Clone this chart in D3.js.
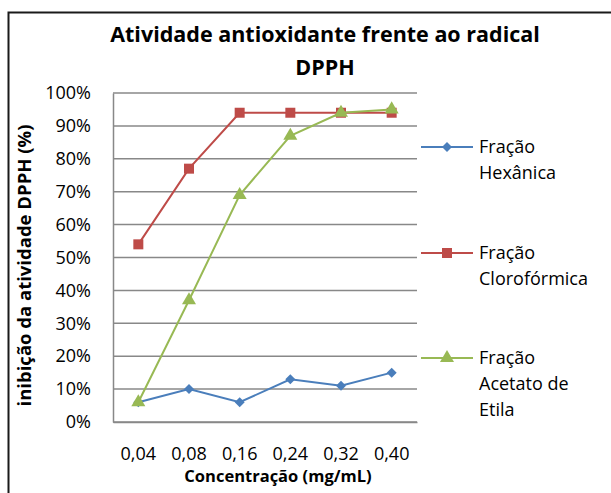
<!DOCTYPE html>
<html>
<head>
<meta charset="utf-8">
<script src="https://cdn.jsdelivr.net/npm/d3@7"></script>
<style>
  body { margin: 0; background: #fff; }
  text { font-family: "Open Sans", "Liberation Sans", sans-serif; fill: #000; }
</style>
</head>
<body>
<div id="chart"></div>
<script>
// chart values
var concentrations = ['0,04', '0,08', '0,16', '0,24', '0,32', '0,40'];
var hexanica = [6, 10, 6, 13, 11, 15];
var cloroformica = [54, 77, 94, 94, 94, 94];
var acetato = [6, 37, 69, 87, 94, 95];
var yTicks = [0, 10, 20, 30, 40, 50, 60, 70, 80, 90, 100];

var series = [
    {name: ['Fração', 'Hexânica'], values: hexanica, color: '#4a7ebb', symbol: d3.symbolSquare, size: 50, rot: 45},
    {name: ['Fração', 'Clorofórmica'], values: cloroformica, color: '#be4b48', symbol: d3.symbolSquare, size: 100, rot: 0},
    {name: ['Fração', 'Acetato de', 'Etila'], values: acetato, color: '#98b954', symbol: d3.symbolTriangle, size: 85, rot: 0}
];

var W = 611, H = 493;
var margin = {left: 113, top: 93, right: 194, bottom: 71};
var width = W - margin.left - margin.right;
var height = H - margin.top - margin.bottom;

var svg = d3.select('#chart').append('svg')
    .attr('width', W)
    .attr('height', H);

// outer frame (only top and left visible)
svg.append('path')
    .attr('d', 'M8.5,' + H + 'V12.5H' + W)
    .attr('fill', 'none')
    .attr('stroke', '#1a1a1a')
    .attr('stroke-width', 2);

var g = svg.append('g')
    .attr('transform', 'translate(' + margin.left + ',' + margin.top + ')');

var x = d3.scaleBand()
    .domain(concentrations)
    .range([0, width]);

var y = d3.scaleLinear()
    .domain([0, 100])
    .range([height, 0]);

// gridlines
g.append('g')
    .selectAll('line')
    .data(yTicks)
    .enter().append('line')
    .attr('x1', 0)
    .attr('x2', width)
    .attr('y1', (d) => y(d))
    .attr('y2', (d) => y(d))
    .attr('stroke', '#888')
    .attr('stroke-width', 1.5);

// axes
var yAxis = g.append('g')
    .call(d3.axisLeft(y).tickValues(yTicks).tickFormat((d) => d + '%').tickSize(0).tickPadding(22));
yAxis.select('.domain').attr('stroke', '#888').attr('stroke-width', 1.5);
yAxis.selectAll('text').style('font-size', '18px');

var xAxis = g.append('g')
    .attr('transform', 'translate(0,' + height + ')')
    .call(d3.axisBottom(x).tickSize(0).tickPadding(25));
xAxis.select('.domain').attr('stroke', '#888').attr('stroke-width', 1.5);
xAxis.selectAll('text').style('font-size', '18px');

// lines and markers
series.forEach(function (s) {
    var pts = s.values.map((v, i) => ({c: concentrations[i], v: v}));
    g.append('path')
        .datum(pts)
        .attr('fill', 'none')
        .attr('stroke', s.color)
        .attr('stroke-width', 2)
        .attr('d', d3.line()
            .x((d) => x(d.c) + x.bandwidth() / 2)
            .y((d) => y(d.v)));
    g.selectAll(null)
        .data(pts)
        .enter().append('path')
        .attr('d', d3.symbol().type(s.symbol).size(s.size))
        .attr('transform', (d) => 'translate(' + (x(d.c) + x.bandwidth() / 2) + ',' + y(d.v) + ') rotate(' + s.rot + ')')
        .attr('fill', s.color);
});

// legend
var legendY = [147, 253, 358];
var legend = svg.append('g');
series.forEach(function (s, i) {
    var lg = legend.append('g').attr('transform', 'translate(421,' + legendY[i] + ')');
    lg.append('line')
        .attr('x1', 0).attr('x2', 52)
        .attr('stroke', s.color).attr('stroke-width', 2);
    lg.append('path')
        .attr('d', d3.symbol().type(s.symbol).size(s.size))
        .attr('transform', 'translate(26,0) rotate(' + s.rot + ')')
        .attr('fill', s.color);
    s.name.forEach(function (t, j) {
        lg.append('text')
            .attr('x', 58)
            .attr('y', j * 26)
            .attr('dy', '0.35em')
            .style('font-size', '18px')
            .text(t);
    });
});

// title
svg.append('text')
    .attr('x', 325).attr('y', 42)
    .attr('text-anchor', 'middle')
    .style('font-size', '21.5px').style('font-weight', 'bold')
    .text('Atividade antioxidante frente ao radical');
svg.append('text')
    .attr('x', 325).attr('y', 75)
    .attr('text-anchor', 'middle')
    .style('font-size', '21.5px').style('font-weight', 'bold')
    .text('DPPH');

// axis titles
svg.append('text')
    .attr('x', 278).attr('y', 482)
    .attr('text-anchor', 'middle')
    .style('font-size', '16.5px').style('font-weight', 'bold')
    .text('Concentração (mg/mL)');
svg.append('text')
    .attr('transform', 'translate(31,' + (margin.top + height / 2 + 8) + ') rotate(-90)')
    .attr('text-anchor', 'middle')
    .style('font-size', '18.5px').style('font-weight', 'bold')
    .text('inibição da atividade DPPH (%)');
</script>
</body>
</html>
